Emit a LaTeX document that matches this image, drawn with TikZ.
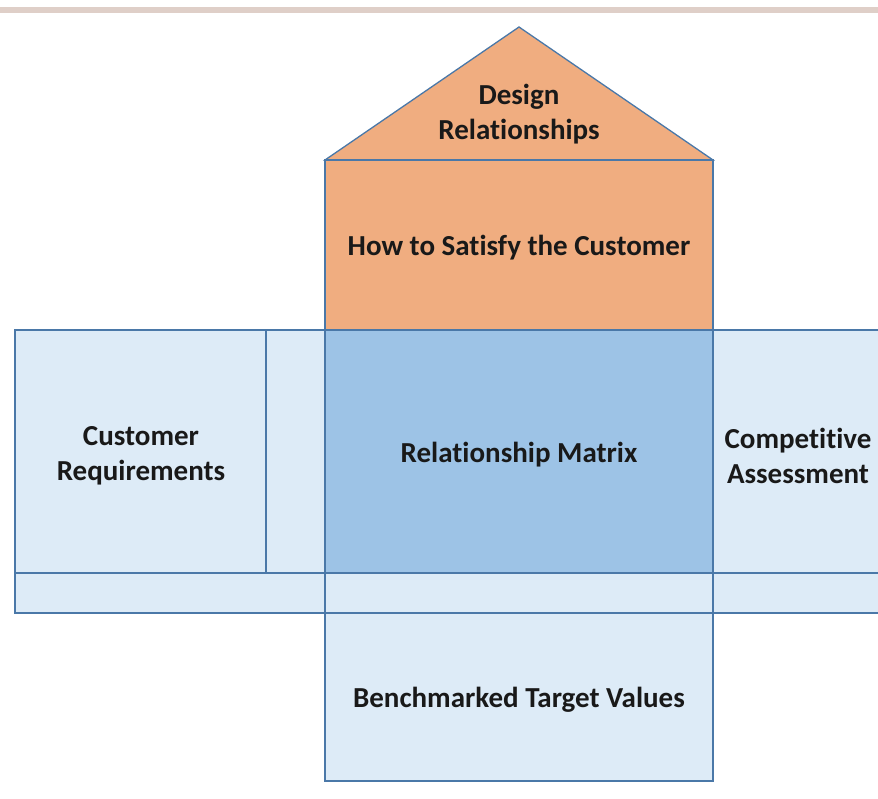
\documentclass[tikz,border=0pt]{standalone}
\usepackage{fontspec}
\setmainfont{Carlito}[Ligatures=NoCommon]
\definecolor{orangefill}{HTML}{F0AD80}
\definecolor{lightblue}{HTML}{DDEBF7}
\definecolor{midblue}{HTML}{9DC3E6}
\definecolor{edgeblue}{HTML}{4A78A8}
\definecolor{topbar}{HTML}{DFCFC8}
\tikzset{
  part/.style={draw=edgeblue, line width=1.3pt, inner sep=0pt, outer sep=0pt},
  lbl/.style={font=\fontsize{29}{35}\selectfont\bfseries, align=center, text=black!90, yshift=-3pt}
}
\begin{document}
\begin{tikzpicture}[x=1pt,y=-1pt]
\useasboundingbox (0,0) rectangle (878,799);
\clip (0,0) rectangle (878,799);
% top bar
\fill[topbar] (0,7) rectangle (878,13);
% roof
\filldraw[part, fill=orangefill, line join=miter] (325,160) -- (519,27) -- (713,160) -- cycle;
\node[lbl] (roof) at (519,111) {Design\\Relationships};
% how box
\node[part, fill=orangefill, minimum width=388pt, minimum height=170pt] (how) at (519,245) {};
\node[lbl] at (how.center) {How to Satisfy the Customer};
% left box
\node[part, fill=lightblue, minimum width=310pt, minimum height=243pt] (left) at (170,451.5) {};
\draw[part] (266,330) -- (266,573);
\node[lbl] (cust) at (141,453) {Customer\\Requirements};
% right box
\node[part, fill=lightblue, minimum width=180pt, minimum height=243pt] (right) at (803,451.5) {};
\node[lbl] (comp) at (798,453) {Competitive\\Assessment};
% bottom strip
\node[part, fill=lightblue, minimum width=880pt, minimum height=40pt] (strip) at (455,593) {};
% matrix
\node[part, fill=midblue, minimum width=388pt, minimum height=243pt] (matrix) at (519,451.5) {};
\node[lbl] at (matrix.center) {Relationship Matrix};
% bottom strip cross lines
\draw[part] (325,573) -- (325,613);
\draw[part] (713,573) -- (713,613);
% bench box
\node[part, fill=lightblue, minimum width=388pt, minimum height=168pt] (bench) at (519,697) {};
\node[lbl] at (bench.center) {Benchmarked Target Values};
\end{tikzpicture}
\end{document}
